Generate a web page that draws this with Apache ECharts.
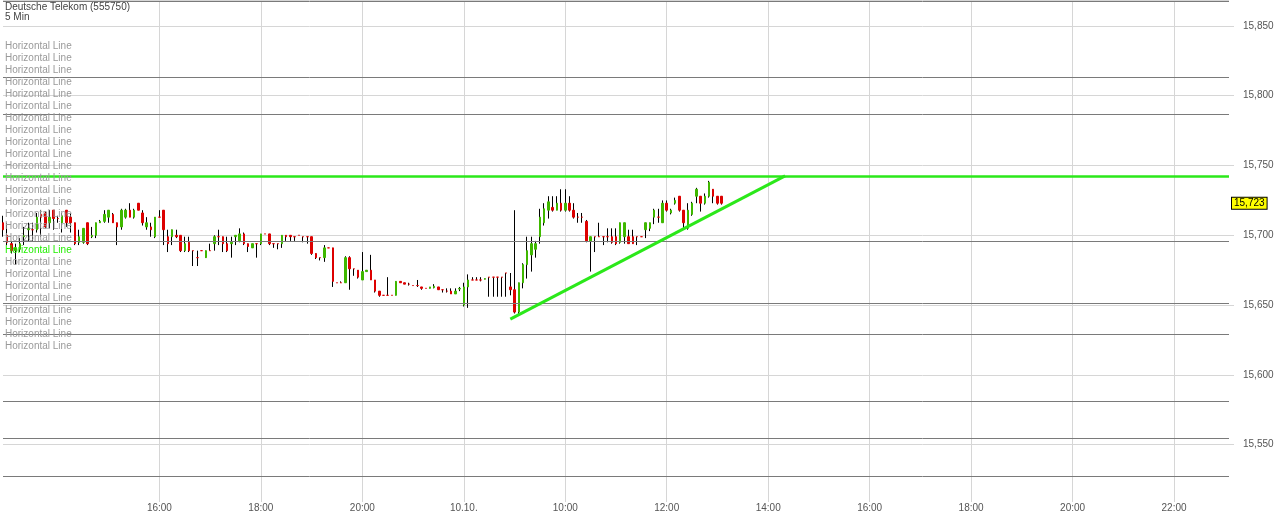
<!DOCTYPE html>
<html>
<head>
<meta charset="utf-8">
<script src="https://cdn.jsdelivr.net/npm/echarts/dist/echarts.min.js"></script>
<style>html,body{margin:0;padding:0;background:#fff}#c{width:1278px;height:516px}</style>
</head>
<body>
<div id="c"></div>
<script>
// ---- sessions (5-minute slots) ----
var sessions = [
  {day: '09.10.', start: '12:55', count: 109},
  {day: '10.10.', start: '08:00', count: 182}
];
// ---- x tick labels ----
var tickNames = ['09.10. 16:00','09.10. 18:00','09.10. 20:00','10.10. 08:00','10.10. 10:00','10.10. 12:00','10.10. 14:00','10.10. 16:00','10.10. 18:00','10.10. 20:00','10.10. 22:00'];
var tickLabels = ['16:00','18:00','20:00','10.10.','10:00','12:00','14:00','16:00','18:00','20:00','22:00'];

// ---- OHLC (EUR) ----
var opens = [15.709,15.700,15.694,15.689,15.690,15.699,15.704,15.704,15.704,15.715,15.716,15.709,15.718,15.712,15.709,15.718,15.713,15.709,15.695,15.695,
15.709,15.699,15.700,15.709,15.710,15.713,15.715,15.709,15.706,15.713,15.718,15.713,15.723,15.716,15.706,15.706,15.699,15.713,15.718,15.699,
15.699,15.700,15.700,15.689,15.695,15.689,15.684,15.689,15.684,15.689,15.694,15.699,15.699,15.694,15.694,15.699,15.696,15.701,15.694,15.691,
15.694,15.694,15.701,15.701,15.694,15.694,15.694,15.700,15.700,15.699,15.700,15.699,15.699,15.699,15.687,15.684,15.684,15.691,15.691,15.666,
15.666,15.666,15.684,15.676,15.675,15.668,15.674,15.675,15.668,15.660,15.657,15.657,15.657,15.657,15.667,15.666,15.665,15.664,15.664,15.663,
15.662,15.662,15.6625,15.663,15.661,15.660,15.660,15.658,15.6615,15.650,15.663,15.668,15.668,15.668,15.6685,15.670,15.670,15.670,15.670,15.673,
15.663,15.661,15.645,15.666,15.679,15.686,15.690,15.699,15.709,15.718,15.720,15.718,15.723,15.718,15.723,15.718,15.713,15.713,15.710,15.696,
15.699,15.699,15.699,15.699,15.699,15.699,15.695,15.699,15.699,15.699,15.699,15.699,15.704,15.705,15.713,15.713,15.709,15.723,15.716,15.723,
15.728,15.718,15.705,15.715,15.728,15.728,15.723,15.728,15.733,15.728,15.728];
var closes = [15.704,15.695,15.689,15.691,15.694,15.700,15.705,15.704,15.713,15.713,15.706,15.713,15.712,15.712,15.714,15.709,15.709,15.694,15.699,15.705,
15.694,15.700,15.709,15.710,15.715,15.718,15.709,15.706,15.718,15.718,15.713,15.718,15.718,15.709,15.709,15.704,15.713,15.713,15.704,15.694,
15.704,15.699,15.689,15.694,15.689,15.689,15.684,15.689,15.689,15.689,15.699,15.699,15.694,15.689,15.695,15.700,15.701,15.694,15.692,15.694,
15.694,15.701,15.701,15.694,15.694,15.694,15.700,15.699,15.699,15.699,15.700,15.699,15.699,15.687,15.684,15.684,15.691,15.691,15.667,15.666,
15.666,15.684,15.676,15.676,15.670,15.674,15.675,15.668,15.660,15.657,15.657,15.657,15.657,15.667,15.666,15.665,15.665,15.664,15.664,15.662,
15.662,15.663,15.6635,15.661,15.661,15.660,15.658,15.660,15.662,15.663,15.668,15.668,15.668,15.668,15.669,15.670,15.670,15.670,15.670,15.673,
15.661,15.645,15.666,15.679,15.689,15.694,15.694,15.713,15.719,15.724,15.718,15.723,15.718,15.723,15.718,15.713,15.713,15.713,15.696,15.699,
15.699,15.699,15.699,15.699,15.695,15.694,15.709,15.709,15.694,15.694,15.699,15.699,15.709,15.709,15.718,15.713,15.723,15.718,15.718,15.725,
15.718,15.709,15.718,15.723,15.733,15.723,15.728,15.738,15.728,15.723,15.723];
var lows = [15.699,15.693,15.687,15.679,15.688,15.693,15.696,15.696,15.702,15.699,15.705,15.705,15.704,15.709,15.702,15.706,15.702,15.693,15.693,15.694,
15.693,15.698,15.698,15.709,15.709,15.709,15.709,15.693,15.704,15.712,15.713,15.712,15.718,15.707,15.704,15.699,15.698,15.713,15.693,15.688,
15.693,15.698,15.688,15.688,15.688,15.678,15.678,15.689,15.684,15.689,15.689,15.693,15.688,15.688,15.684,15.693,15.695,15.693,15.688,15.691,
15.684,15.693,15.701,15.693,15.691,15.690,15.691,15.696,15.696,15.696,15.700,15.695,15.694,15.686,15.683,15.682,15.681,15.691,15.663,15.666,
15.666,15.666,15.661,15.671,15.669,15.668,15.674,15.668,15.659,15.656,15.657,15.657,15.657,15.657,15.666,15.665,15.664,15.664,15.663,15.661,
15.662,15.662,15.662,15.661,15.659,15.659,15.658,15.658,15.660,15.649,15.648,15.668,15.668,15.667,15.6685,15.656,15.656,15.656,15.656,15.656,
15.657,15.644,15.643,15.662,15.669,15.674,15.684,15.694,15.707,15.712,15.717,15.718,15.717,15.717,15.717,15.712,15.709,15.709,15.695,15.674,
15.688,15.699,15.693,15.695,15.694,15.693,15.694,15.694,15.694,15.694,15.693,15.699,15.698,15.703,15.708,15.709,15.709,15.717,15.715,15.722,
15.717,15.705,15.704,15.714,15.723,15.717,15.722,15.727,15.723,15.722,15.722];
var highs = [15.714,15.709,15.696,15.694,15.698,15.706,15.709,15.709,15.716,15.718,15.717,15.718,15.718,15.714,15.716,15.718,15.716,15.709,15.704,15.705,
15.709,15.706,15.709,15.711,15.718,15.718,15.716,15.709,15.719,15.719,15.723,15.719,15.723,15.718,15.713,15.709,15.713,15.718,15.718,15.704,
15.704,15.704,15.700,15.699,15.699,15.689,15.689,15.689,15.689,15.694,15.700,15.704,15.699,15.699,15.699,15.700,15.705,15.702,15.694,15.694,
15.694,15.701,15.701,15.701,15.694,15.694,15.700,15.700,15.700,15.699,15.700,15.699,15.699,15.699,15.687,15.684,15.693,15.691,15.691,15.666,
15.667,15.685,15.685,15.676,15.675,15.688,15.675,15.686,15.668,15.660,15.657,15.670,15.657,15.667,15.667,15.666,15.666,15.664,15.668,15.663,
15.662,15.663,15.665,15.663,15.661,15.662,15.662,15.662,15.663,15.666,15.672,15.670,15.670,15.670,15.669,15.670,15.670,15.670,15.670,15.673,
15.673,15.718,15.666,15.680,15.699,15.699,15.696,15.719,15.723,15.728,15.728,15.728,15.733,15.733,15.728,15.723,15.716,15.716,15.711,15.699,
15.699,15.709,15.699,15.705,15.705,15.705,15.709,15.709,15.704,15.704,15.699,15.699,15.709,15.709,15.719,15.719,15.725,15.725,15.719,15.727,
15.728,15.718,15.723,15.724,15.734,15.728,15.730,15.739,15.733,15.728,15.728];

// ---- drawn lines (EUR) ----
var grayLines = [15.8679, 15.8133, 15.7868, 15.6959, 15.6515, 15.6293, 15.5811, 15.5548, 15.5276];
var resistance = 15.7426;
var trendStart = {slot: 120, value: 15.6399};
var trendEnd = {slot: 185, value: 15.7426};
var yRange = {min: 15.5125, max: 15.8686};

// ---- annotation texts ----
var titleLines = ['Deutsche Telekom (555750)', '5 Min'];
var noteLabels = [];
for (var k = 0; k < 26; k++) noteLabels.push({text: 'Horizontal Line', active: k === 17});

// build categories
function pad(n){return (n<10?'0':'')+n;}
var categories = [];
sessions.forEach(function(s){
  var hm = s.start.split(':'); var m = (+hm[0])*60 + (+hm[1]);
  for (var i = 0; i < s.count; i++) { var t = m + i*5; categories.push(s.day + ' ' + pad(Math.floor(t/60)) + ':' + pad(t%60)); }
});

var full = [], bodies = [];
for (var i = 0; i < opens.length; i++) {
  full.push([opens[i], closes[i], lows[i], highs[i]]);
  bodies.push([opens[i], closes[i], Math.min(opens[i], closes[i]), Math.max(opens[i], closes[i])]);
}
var lastClose = closes[closes.length - 1];
function fmt(v){ return v.toFixed(3).replace('.', ','); }

var FONT = '"Liberation Sans", Arial, sans-serif';
var graphics = [];
titleLines.forEach(function(t, j){
  graphics.push({type:'text', x:5, y:7 + j*10, z:100, style:{text:t, fill:'#444', font:'10px ' + FONT, verticalAlign:'middle'}});
});
noteLabels.forEach(function(n, j){
  graphics.push({type:'text', x:5, y:46.7 + j*12, z:100, style:{text:n.text, fill: n.active ? '#22ee00' : '#9a9a9a', font:'10px ' + FONT, verticalAlign:'middle'}});
});

var markData = grayLines.map(function(v){ return {yAxis: v, lineStyle:{color:'#7a7a7a', width:1, type:'solid'}}; });
markData.push({yAxis: resistance, lineStyle:{color:'#2be81a', width:2.5, type:'solid'}});
markData.push([{coord:[categories[trendStart.slot], trendStart.value]}, {coord:[categories[trendEnd.slot], trendEnd.value], lineStyle:{color:'#2be81a', width:3, type:'solid'}}]);
markData.push({yAxis: lastClose, lineStyle:{color:'rgba(0,0,0,0)', width:1, opacity:1},
  label:{show:true, opacity:1, position:'end', distance:3, formatter: function(){return fmt(lastClose);}, backgroundColor:'#ffff00', borderColor:'#000', borderWidth:1, padding:[1,2,0,2], color:'#000', fontSize:10, fontFamily:FONT}});

var gridColors = ['rgba(0,0,0,0)'];
for (var g = 0; g < 8; g++) gridColors.push('#d6d6d6');

var chart = echarts.init(document.getElementById('c'), null, {renderer:'canvas'});
chart.setOption({
  animation: false,
  backgroundColor: '#fff',
  grid: {left: 3, right: 49, top: 0, bottom: 19},
  graphic: graphics,
  xAxis: {
    type: 'category', data: categories, boundaryGap: false,
    axisLine: {show: false},
    axisTick: {show: true, length: 5, lineStyle:{color:'#d6d6d6'}, interval: function(i, v){ return tickNames.indexOf(v) >= 0; }},
    axisLabel: {margin: 6, color:'#555', fontSize: 10, fontFamily: FONT, interval: function(i, v){ return tickNames.indexOf(v) >= 0; },
      formatter: function(v){ var k = tickNames.indexOf(v); return k >= 0 ? tickLabels[k] : ''; }},
    splitLine: {show: true, lineStyle:{color:'#d6d6d6', width:1}, interval: function(i, v){ return tickNames.indexOf(v) >= 0; }}
  },
  yAxis: {
    type: 'value', position: 'right', scale: true,
    min: yRange.min, max: yRange.max, splitNumber: 7,
    axisLine: {show: false},
    axisTick: {show: true, length: 5, lineStyle:{color:'#d6d6d6'}},
    axisLabel: {margin: 14, color:'#555', fontSize: 10, fontFamily: FONT, showMinLabel: false, showMaxLabel: false, formatter: fmt},
    splitLine: {show: true, lineStyle:{color: gridColors, width:1}}
  },
  series: [
    {
      type: 'candlestick', name: 'wicks', data: full, barWidth: 1, silent: true, z: 2,
      itemStyle: {color:'#000', color0:'#000', borderColor:'#000', borderColor0:'#000', borderColorDoji:'#000', borderWidth:1}
    },
    {
      type: 'candlestick', name: 'bodies', data: bodies, barWidth: 2, silent: true, z: 3,
      itemStyle: {color:'#3fb800', color0:'#dd0000', borderColor:'#3fb800', borderColor0:'#dd0000', borderColorDoji:'#dd0000', borderWidth:1},
      markLine: {silent: true, precision: 4, symbol: ['none','none'], label:{show:false}, animation:false, data: markData}
    }
  ]
});
</script>
</body>
</html>
